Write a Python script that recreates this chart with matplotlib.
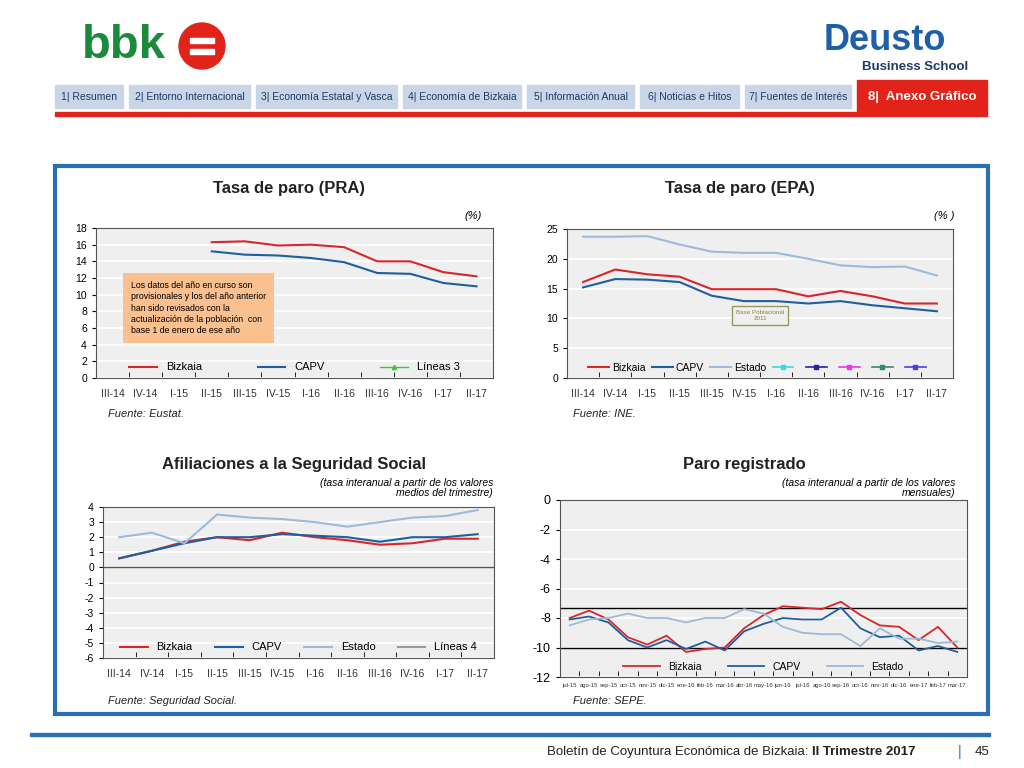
import numpy as np
import matplotlib.pyplot as plt
from matplotlib.patches import Rectangle, Circle

nan = np.nan
quarters = ["III-14", "IV-14", "I-15", "II-15", "III-15", "IV-15", "I-16",
            "II-16", "III-16", "IV-16", "I-17", "II-17"]
months = ["jul-15", "ago-15", "sep-15", "oct-15", "nov-15", "dic-15", "ene-16",
          "feb-16", "mar-16", "abr-16", "may-16", "jun-16", "jul-16", "ago-16",
          "sep-16", "oct-16", "nov-16", "dic-16", "ene-17", "feb-17", "mar-17"]

pra_bizkaia = [nan, nan, nan, 16.3, 16.4, 15.9, 16.0, 15.7, 14.0, 14.0, 12.7, 12.2]
pra_capv = [nan, nan, nan, 15.2, 14.8, 14.7, 14.4, 13.9, 12.6, 12.5, 11.4, 11.0]

epa_bizkaia = [16.1, 18.2, 17.4, 17.0, 14.9, 14.9, 14.9, 13.7, 14.6, 13.7, 12.5, 12.5]
epa_capv = [15.2, 16.6, 16.5, 16.1, 13.8, 12.9, 12.9, 12.5, 12.9, 12.2, 11.7, 11.2]
epa_estado = [23.7, 23.7, 23.8, 22.4, 21.2, 21.0, 21.0, 20.0, 18.9, 18.6, 18.7, 17.2]

af_bizkaia = [0.6, 1.1, 1.7, 2.0, 1.8, 2.3, 2.0, 1.8, 1.5, 1.6, 1.9, 1.9]
af_capv = [0.6, 1.1, 1.6, 2.0, 2.0, 2.2, 2.1, 2.0, 1.7, 2.0, 2.0, 2.2]
af_estado = [2.0, 2.3, 1.6, 3.5, 3.3, 3.2, 3.0, 2.7, 3.0, 3.3, 3.4, 3.8]

pr_bizkaia = [-8.0, -7.5, -8.1, -9.3, -9.8, -9.2, -10.3, -10.1, -10.0, -8.7, -7.8,
              -7.2, -7.3, -7.4, -6.9, -7.8, -8.5, -8.6, -9.5, -8.6, -10.0]
pr_capv = [-8.1, -7.9, -8.3, -9.5, -10.0, -9.5, -10.1, -9.6, -10.2, -8.9, -8.4,
           -8.0, -8.1, -8.1, -7.3, -8.7, -9.3, -9.2, -10.2, -9.9, -10.3]
pr_estado = [-8.5, -8.1, -8.0, -7.7, -8.0, -8.0, -8.3, -8.0, -8.0, -7.4, -7.7,
             -8.6, -9.0, -9.1, -9.1, -9.9, -8.7, -9.4, -9.4, -9.7, -9.6]
pr_bands = [-7.3, -10.0]

RED, BLUE, LBLUE = "#D7262E", "#1F5F9E", "#9DBAD8"
plt.rcParams["font.family"] = "Liberation Sans"
plt.rcParams["axes.unicode_minus"] = False

fig = plt.figure(figsize=(10.24, 7.68), dpi=100)
W, H = 1024, 768


def box(x0, y0, x1, y1):
    return [x0 / W, 1 - y1 / H, (x1 - x0) / W, (y1 - y0) / H]


# header
bg = fig.add_axes([0, 0, 1, 1])
bg.set_xlim(0, W)
bg.set_ylim(H, 0)
bg.axis("off")
bg.text(82, 46, "bbk", fontsize=34, fontweight="bold", color="#1B8A3C", va="center")
bg.add_patch(Circle((202, 46), 23, color="#E2231A"))
bg.add_patch(Rectangle((190, 38), 24, 5, color="white"))
bg.add_patch(Rectangle((190, 49), 24, 5, color="white"))
bg.text(824, 40, "Deusto", fontsize=26, fontweight="bold", color="#1F5FA8", va="center")
bg.text(862, 67, "Business School", fontsize=9.5, fontweight="bold", color="#1F3A66", va="center")

tabs = [("1| Resumen", 55, 123), ("2| Entorno Internacional", 129, 250),
        ("3| Economía Estatal y Vasca", 256, 397), ("4| Economía de Bizkaia", 403, 521),
        ("5| Información Anual", 527, 634), ("6| Noticias e Hitos", 640, 739),
        ("7| Fuentes de Interés", 745, 851)]
for t, x0, x1 in tabs:
    bg.add_patch(Rectangle((x0, 85), x1 - x0, 23, color="#C9D6E8"))
    bg.text((x0 + x1) / 2, 97, t, fontsize=7.5, ha="center", va="center", color="#1F3A66")
bg.add_patch(Rectangle((857, 80), 130, 33, color="#E2231A"))
bg.text(922, 97, "8|  Anexo Gráfico", fontsize=9.5, fontweight="bold", ha="center",
        va="center", color="white")
bg.add_patch(Rectangle((55, 112), 932, 4, color="#E2231A"))
bg.add_patch(Rectangle((55, 166), 933, 548, fill=False, ec="#2A6FB5", lw=3))
bg.add_patch(Rectangle((30, 733), 960, 3, color="#2A6FB5"))
bg.text(808, 752, "Boletín de Coyuntura Económica de Bizkaia:", fontsize=9.5,
        ha="right", va="center", color="#222222")
bg.text(812, 752, "II Trimestre 2017", fontsize=9.5, fontweight="bold",
        ha="left", va="center", color="#222222")
bg.text(960, 752, "|", fontsize=10, ha="center", va="center", color="#2A6FB5")
bg.text(982, 752, "45", fontsize=9.5, ha="center", va="center", color="#222222")

# chart titles and sources
titles = [("Tasa de paro (PRA)", 289, 188), ("Tasa de paro (EPA)", 740, 188),
          ("Afiliaciones a la Seguridad Social", 294, 464), ("Paro registrado", 744, 464)]
for t, x, y in titles:
    bg.text(x, y, t, fontsize=12, fontweight="bold", ha="center", va="center", color="#222222")
for t, x, y in [("Fuente: Eustat.", 108, 414), ("Fuente: INE.", 573, 414),
                ("Fuente: Seguridad Social.", 108, 701), ("Fuente: SEPE.", 573, 701)]:
    bg.text(x, y, t, fontsize=8, style="italic", va="center", color="#222222")
bg.text(482, 216, "(%)", fontsize=8, style="italic", ha="right", va="center")
bg.text(955, 216, "(% )", fontsize=8, style="italic", ha="right", va="center")
bg.text(493, 488, "(tasa interanual a partir de los valores\nmedios del trimestre)",
        fontsize=7.5, style="italic", ha="right", va="center", linespacing=0.95)
bg.text(955, 488, "(tasa interanual a partir de los valores\nmensuales)",
        fontsize=7.5, style="italic", ha="right", va="center", linespacing=0.95)


def style(ax, labels, ylim, step, tick_fs=7.5):
    ax.set_facecolor("#EFEFEF")
    x = np.arange(len(labels))
    ax.set_xlim(-0.5, len(labels) - 0.5)
    ax.set_ylim(*ylim)
    ax.set_yticks(np.arange(ylim[0], ylim[1] + 0.01, step))
    ax.set_xticks(x)
    ax.set_xticklabels(labels, fontsize=tick_fs, color="#333333")
    ax.set_xticks(np.arange(-0.5, len(labels)), minor=True)
    ax.tick_params(axis="x", which="major", length=0, pad=8)
    ax.tick_params(axis="x", which="minor", length=4, direction="in")
    ax.tick_params(axis="y", labelsize=7.5, length=3)
    ax.grid(axis="y", color="white", lw=1.2)
    ax.set_axisbelow(True)
    for s in ax.spines.values():
        s.set_color("#555555")
    return x


# PRA
ax1 = fig.add_axes(box(96, 228, 493, 378))
x = style(ax1, quarters, (0, 18), 2)
ax1.plot(x, pra_bizkaia, color=RED, lw=1.5, label="Bizkaia")
ax1.plot(x, pra_capv, color=BLUE, lw=1.5, label="CAPV")
ax1.plot([], [], color="#33CC33", marker="^", ms=3, lw=1, label="Líneas 3")
ax1.legend(loc="lower center", ncol=3, frameon=False, fontsize=8, columnspacing=5,
           handlelength=2.5, borderaxespad=0.1)
ax1.text(0.55, 11.6, "Los datos del año en curso son\nprovisionales y los del año anterior\n"
         "han sido revisados con la\nactualización de la población  con\nbase 1 de enero de ese año",
         fontsize=6.3, va="top", linespacing=1.3,
         bbox=dict(boxstyle="square,pad=0.9", fc="#FAC090", ec="none"))

# EPA
ax2 = fig.add_axes(box(567, 229, 953, 378))
x = style(ax2, quarters, (0, 25), 5)
ax2.plot(x, epa_bizkaia, color=RED, lw=1.5, label="Bizkaia")
ax2.plot(x, epa_capv, color=BLUE, lw=1.5, label="CAPV")
ax2.plot(x, epa_estado, color=LBLUE, lw=1.5, label="Estado")
for c in ["#33DDDD", "#2222AA", "#EE33EE", "#338877", "#4444DD"]:
    ax2.plot([], [], color=c, marker="s", ms=2.5, lw=1.2, label=" ")
ax2.legend(loc="lower center", ncol=8, frameon=False, fontsize=7.5, columnspacing=0.6,
           handlelength=2, handletextpad=0.3, borderaxespad=0.1)
ax2.text(5.5, 10.5, "Base Poblacional\n2011", fontsize=4.5, color="#888844", ha="center",
         va="center", bbox=dict(boxstyle="square,pad=0.6", fc="#EFEFEF", ec="#99995A"))

# Afiliaciones
ax3 = fig.add_axes(box(103, 507, 494, 658))
x = style(ax3, quarters, (-6, 4), 1)
ax3.axhline(0, color="#555555", lw=1)
ax3.plot(x, af_bizkaia, color=RED, lw=1.5, label="Bizkaia")
ax3.plot(x, af_capv, color=BLUE, lw=1.5, label="CAPV")
ax3.plot(x, af_estado, color=LBLUE, lw=1.5, label="Estado")
ax3.plot([], [], color="#999999", lw=1.5, label="Líneas 4")
ax3.legend(loc="lower center", ncol=4, frameon=False, fontsize=8, columnspacing=2,
           handlelength=2.5, borderaxespad=0.1)

# Paro registrado
ax4 = fig.add_axes(box(560, 500, 967, 677))
x = style(ax4, months, (-12, 0), 2, tick_fs=4.2)
ax4.tick_params(axis="x", pad=4)
ax4.tick_params(axis="y", labelsize=9)
for b in pr_bands:
    ax4.axhline(b, color="black", lw=1)
ax4.plot(x, pr_bizkaia, color=RED, lw=1.3, label="Bizkaia")
ax4.plot(x, pr_capv, color=BLUE, lw=1.3, label="CAPV")
ax4.plot(x, pr_estado, color=LBLUE, lw=1.3, label="Estado")
ax4.legend(loc="lower center", ncol=3, frameon=False, fontsize=7.5, columnspacing=2.5,
           handlelength=3.5, borderaxespad=0.1)

fig.savefig("out.png", dpi=100)
